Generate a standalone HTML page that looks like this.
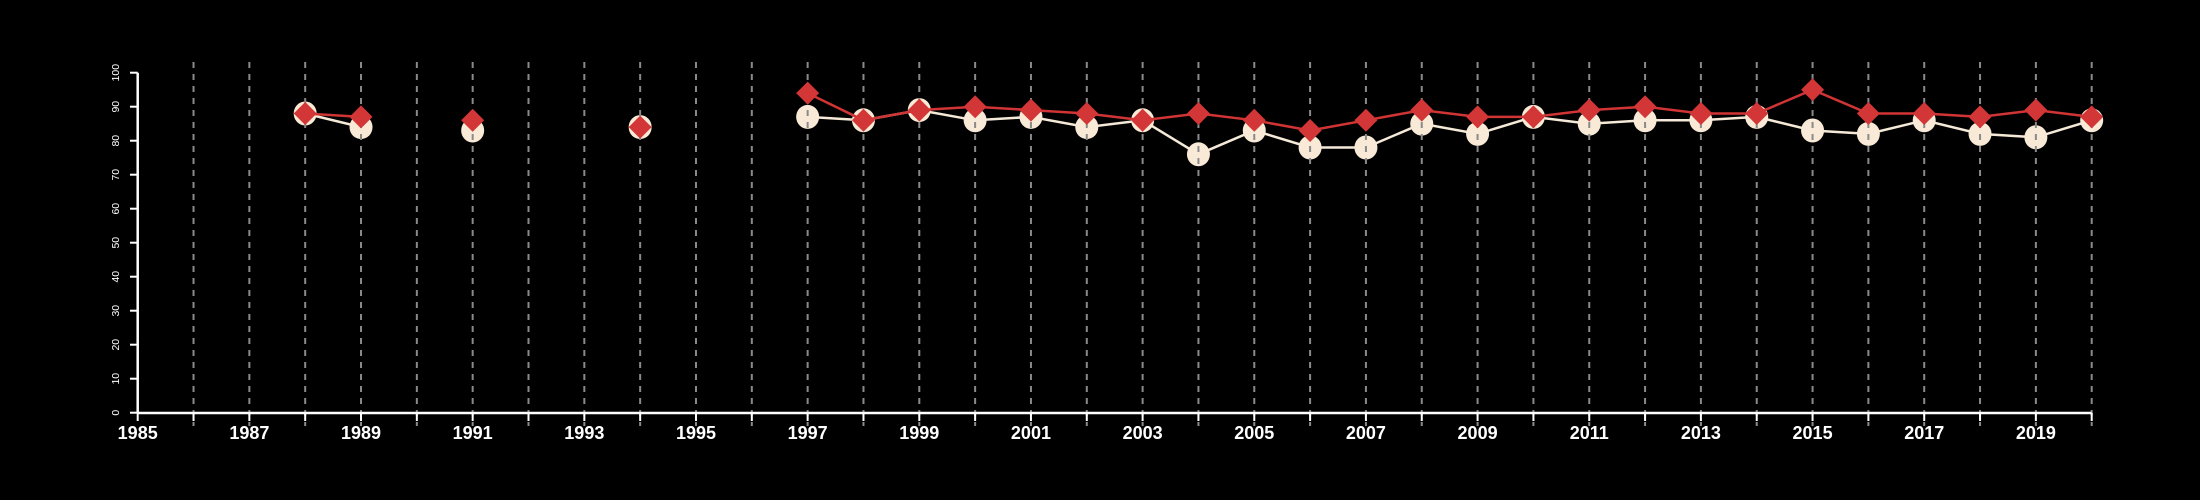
<!DOCTYPE html>
<html><head><meta charset="utf-8"><style>html,body{margin:0;padding:0;background:#000;}svg{display:block}</style></head>
<body>
<svg id="chart" width="2200" height="500" xmlns="http://www.w3.org/2000/svg" font-family="Liberation Sans, sans-serif">
<rect width="2200" height="500" fill="#000"/>
</svg>
<script>
const years = [1988,1989,1991,1994,1997,1998,1999,2000,2001,2002,2003,2004,2005,2006,2007,2008,2009,2010,2011,2012,2013,2014,2015,2016,2017,2018,2019,2020];
const circleSeries = [88,84,83,84,87,86,89,86,87,84,86,76,83,78,78,85,82,87,85,86,86,87,83,82,86,82,81,86];
const diamondSeries = [88,87,86,84,94,86,89,90,89,88,86,88,86,83,86,89,87,87,89,90,88,88,95,88,88,87,89,87];
const yTicks = [0,10,20,30,40,50,60,70,80,90,100];
const xTickLabels = [1985,1987,1989,1991,1993,1995,1997,1999,2001,2003,2005,2007,2009,2011,2013,2015,2017,2019];

const NS = 'http://www.w3.org/2000/svg';
const svg = document.getElementById('chart');
const x = yr => 137.7 + (yr - 1985) * (2091.7 - 137.7) / 35;
const y = v => 412.7 - v * 3.4;
function mk(tag, attrs, parent) {
  const e = document.createElementNS(NS, tag);
  for (const k in attrs) e.setAttribute(k, attrs[k]);
  (parent || svg).appendChild(e);
  return e;
}
// segments helper: break at gaps (non-consecutive years)
function segs(vals) {
  const out = []; let cur = [];
  years.forEach((yr, i) => {
    if (i > 0 && yr - years[i-1] > 1) { out.push(cur); cur = []; }
    cur.push([x(yr), y(vals[i])]);
  });
  out.push(cur);
  return out;
}
// circle series
const gc = mk('g', {});


segs(circleSeries).forEach(s => {
  if (s.length > 1) {
    const l = mk('polyline', {points: s.map(p => p.join(',')).join(' '), fill: 'none', stroke: '#f5e9d8', 'stroke-width': 2.5}, gc);
    
    
  }
});
years.forEach((yr, i) => {
  const c = mk('ellipse', {cx: x(yr), cy: y(circleSeries[i]), rx: 11.5, ry: 12, fill: '#f8ead6'}, gc);
  
  
});
// gridlines
for (let yr = 1986; yr <= 2020; yr++) {
  const g = mk('line', {x1: x(yr), x2: x(yr), y1: 62, y2: 426, stroke: '#8a8a8a', 'stroke-width': 2, 'stroke-dasharray': '6,6'});
  
  
}
// diamond series
const gd = mk('g', {});


segs(diamondSeries).forEach(s => {
  if (s.length > 1) {
    const l = mk('polyline', {points: s.map(p => p.join(',')).join(' '), fill: 'none', stroke: '#d13434', 'stroke-width': 2.5}, gd);
    
    
  }
});
years.forEach((yr, i) => {
  const cx = x(yr), cy = y(diamondSeries[i]), r = 11.5;
  const d = mk('polygon', {points: `${cx},${cy-r} ${cx+r},${cy} ${cx},${cy+r} ${cx-r},${cy}`, fill: '#d33636'}, gd);
  
  
});
// x axis
const xa = mk('g', {});


mk('line', {x1: x(1985), x2: x(2020), y1: 413, y2: 413, stroke: '#fff', 'stroke-width': 2.5}, xa);
for (let yr = 1985; yr <= 2020; yr++) {
  mk('line', {x1: x(yr), x2: x(yr), y1: 413, y2: 421, stroke: '#fff', 'stroke-width': 2}, xa);
}
xTickLabels.forEach(yr => {
  const t = mk('text', {x: x(yr), y: 439, fill: '#fff', 'font-size': 18, 'font-weight': 'bold', 'text-anchor': 'middle'}, xa);
  t.textContent = yr;
  
  
});
// y axis
const ya = mk('g', {});


mk('line', {x1: 137.7, x2: 137.7, y1: y(0), y2: y(100), stroke: '#fff', 'stroke-width': 2.5}, ya);
yTicks.forEach(v => {
  mk('line', {x1: 130, x2: 137.7, y1: y(v), y2: y(v), stroke: '#fff', 'stroke-width': 2}, ya);
  const t = mk('text', {x: 0, y: 0, fill: '#fff', 'font-size': 10.5, 'text-anchor': 'middle', transform: `translate(119,${y(v)}) rotate(-90)`}, ya);
  t.textContent = v;
  
  
});
</script>
</body></html>
